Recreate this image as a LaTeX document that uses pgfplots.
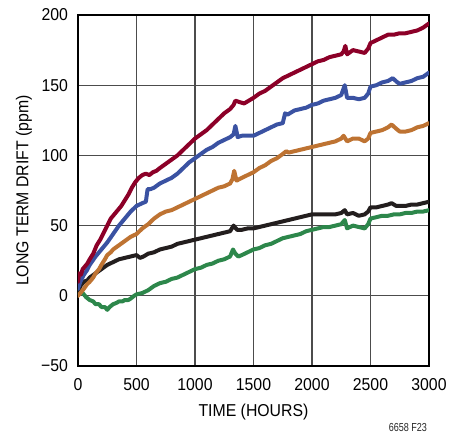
\documentclass[border=0pt]{standalone}
\usepackage{fontspec}
\setmainfont[FakeStretch=0.92]{Liberation Sans}
\newfontfamily\smallcn[FakeStretch=0.78]{Liberation Sans}
\usepackage{pgfplots}
\pgfplotsset{compat=1.18}
\definecolor{cred}{RGB}{140,0,40}
\definecolor{cblue}{RGB}{58,82,162}
\definecolor{corange}{RGB}{190,115,50}
\definecolor{cblack}{RGB}{35,30,30}
\definecolor{cgreen}{RGB}{45,135,75}
\begin{document}
\begin{tikzpicture}
\path[use as bounding box] (-58.5pt,-53.25pt) rectangle (279pt,274.5pt);
\begin{axis}[
  at={(0,0)}, anchor=south west,
  scale only axis, width=263.25pt, height=263.25pt,
  xmin=0, xmax=3000, ymin=-50, ymax=200,
  xtick={0,500,...,3000}, ytick={-50,0,...,200},
  xticklabels={0,500,1000,1500,2000,2500,3000},
  yticklabels={−50,0,50,100,150,200},
  grid=major,
  grid style={line width=0.8pt, color=black!70},
  axis line style={line width=1.5pt, black},
  major tick style={draw=none},
  xticklabel style={font=\fontsize{12.9}{14}\selectfont, yshift=-5.5pt},
  yticklabel style={font=\fontsize{12.9}{14}\selectfont, xshift=-4pt},
  xlabel={TIME (HOURS)},
  ylabel={LONG TERM DRIFT (ppm)},
  label style={font=\fontsize{12.9}{14}\selectfont},
  xlabel style={at={(axis description cs:0.5,0)}, anchor=center, yshift=-34.5pt},
  ylabel style={at={(axis description cs:0,0.5)}, anchor=center, rotate=0, yshift=40.5pt},
  every axis plot/.append style={line width=3pt, line join=round, line cap=round, mark=none},
  clip=true,
]
% green
\addplot[cgreen] coordinates {(0,2)(15,4)(30,3)(50,1)(70,-1)(100,-3)(130,-4)(150,-6)(180,-6)(200,-8)(230,-8)(250,-10)(270,-8)(300,-6)(330,-5)(350,-4)(380,-4)(400,-3)(430,-3)(450,-2)(480,0)(500,1)(550,2)(600,4)(650,7)(700,9)(750,10)(800,12)(850,13)(900,15)(950,17)(1000,19)(1050,20)(1100,22)(1150,23)(1200,25)(1250,26)(1300,28)(1325,33)(1345,30)(1370,28)(1400,29)(1450,31)(1500,33)(1550,34)(1600,36)(1650,37)(1700,39)(1750,41)(1800,42)(1850,43)(1900,44)(1950,46)(2000,47)(2050,48)(2100,49)(2150,49)(2200,50)(2250,51)(2280,54)(2300,48)(2350,50)(2400,49)(2450,48)(2480,51)(2500,55)(2550,56)(2600,57)(2650,57)(2700,58)(2750,58)(2800,59)(2850,59)(2900,60)(2950,60)(3000,61)};
% black
\addplot[cblack] coordinates {(0,2)(20,7)(50,10)(80,11)(100,13)(150,16)(200,19)(250,22)(300,24)(350,26)(400,27)(450,28)(500,29)(530,27)(560,28)(600,30)(650,31)(700,33)(750,34)(800,35)(850,37)(900,38)(950,39)(1000,40)(1050,41)(1100,42)(1150,43)(1200,44)(1250,45)(1300,46)(1330,50)(1360,47)(1400,47)(1450,48)(1500,48)(1550,49)(1600,50)(1650,51)(1700,52)(1750,53)(1800,54)(1850,55)(1900,56)(1950,57)(2000,58)(2050,58)(2100,58)(2150,58)(2200,58)(2250,59)(2280,61)(2300,58)(2350,59)(2400,57)(2450,58)(2480,60)(2500,63)(2550,63)(2600,64)(2650,65)(2680,66)(2720,64)(2750,64)(2800,64)(2850,65)(2900,65)(2950,66)(3000,67)};
% orange
\addplot[corange] coordinates {(0,0)(30,3)(50,5)(75,8)(100,10)(130,13)(150,16)(180,19)(200,22)(230,26)(250,29)(280,31)(300,33)(350,36)(400,39)(450,42)(500,44)(550,48)(600,51)(650,55)(700,58)(750,60)(800,61)(850,63)(900,65)(950,67)(1000,69)(1050,71)(1100,73)(1150,75)(1200,77)(1250,78)(1300,80)(1320,83)(1335,89)(1355,82)(1400,84)(1450,86)(1500,88)(1550,91)(1600,93)(1650,96)(1700,98)(1750,101)(1780,103)(1800,102)(1850,103)(1900,104)(1950,105)(2000,106)(2050,107)(2100,108)(2150,109)(2200,110)(2250,112)(2270,114)(2300,110)(2350,112)(2400,112)(2450,110)(2480,112)(2500,116)(2550,117)(2600,118)(2650,120)(2680,122)(2720,119)(2750,117)(2800,117)(2850,118)(2900,120)(2950,121)(3000,123)};
% blue
\addplot[cblue] coordinates {(0,5)(20,10)(50,15)(75,18)(100,22)(150,28)(200,33)(250,38)(300,44)(350,50)(400,55)(450,60)(500,64)(550,66)(580,67)(595,76)(620,76)(650,77)(700,80)(750,82)(800,84)(850,87)(900,91)(950,95)(1000,98)(1050,101)(1100,104)(1150,106)(1200,109)(1250,111)(1300,113)(1330,115)(1345,121)(1365,113)(1400,114)(1450,114)(1500,114)(1550,116)(1600,118)(1650,120)(1700,122)(1750,123)(1770,130)(1790,129)(1850,132)(1900,133)(1950,134)(2000,136)(2050,137)(2100,139)(2150,140)(2200,141)(2250,143)(2280,150)(2300,141)(2350,141)(2400,140)(2450,141)(2480,144)(2500,149)(2550,150)(2600,152)(2650,153)(2690,155)(2730,152)(2750,151)(2800,152)(2850,153)(2900,155)(2950,156)(3000,159)};
% red
\addplot[cred] coordinates {(0,10)(10,16)(25,15)(40,19)(60,21)(80,23)(100,26)(130,30)(160,36)(190,40)(220,45)(250,50)(280,55)(310,58)(340,61)(370,64)(400,68)(430,72)(460,77)(490,81)(520,84)(550,86)(580,87)(610,86)(640,88)(670,89)(700,91)(750,94)(800,97)(850,100)(900,104)(950,108)(1000,112)(1050,115)(1100,118)(1150,122)(1200,126)(1250,130)(1300,133)(1330,136)(1345,139)(1380,138)(1420,137)(1460,139)(1500,141)(1550,144)(1600,146)(1650,149)(1700,152)(1750,155)(1800,157)(1850,159)(1900,161)(1950,163)(2000,165)(2050,167)(2100,168)(2150,170)(2200,171)(2250,172)(2270,174)(2285,178)(2300,172)(2350,175)(2400,174)(2450,173)(2480,176)(2500,180)(2550,182)(2600,184)(2650,186)(2700,186)(2750,187)(2800,187)(2850,188)(2900,189)(2950,191)(3000,194)};
\end{axis}
\node[anchor=east, font=\smallcn\fontsize{8.7}{10}\selectfont, text=black!85] at (265.3pt,-46.5pt) {6658 F23};
\end{tikzpicture}
\end{document}
